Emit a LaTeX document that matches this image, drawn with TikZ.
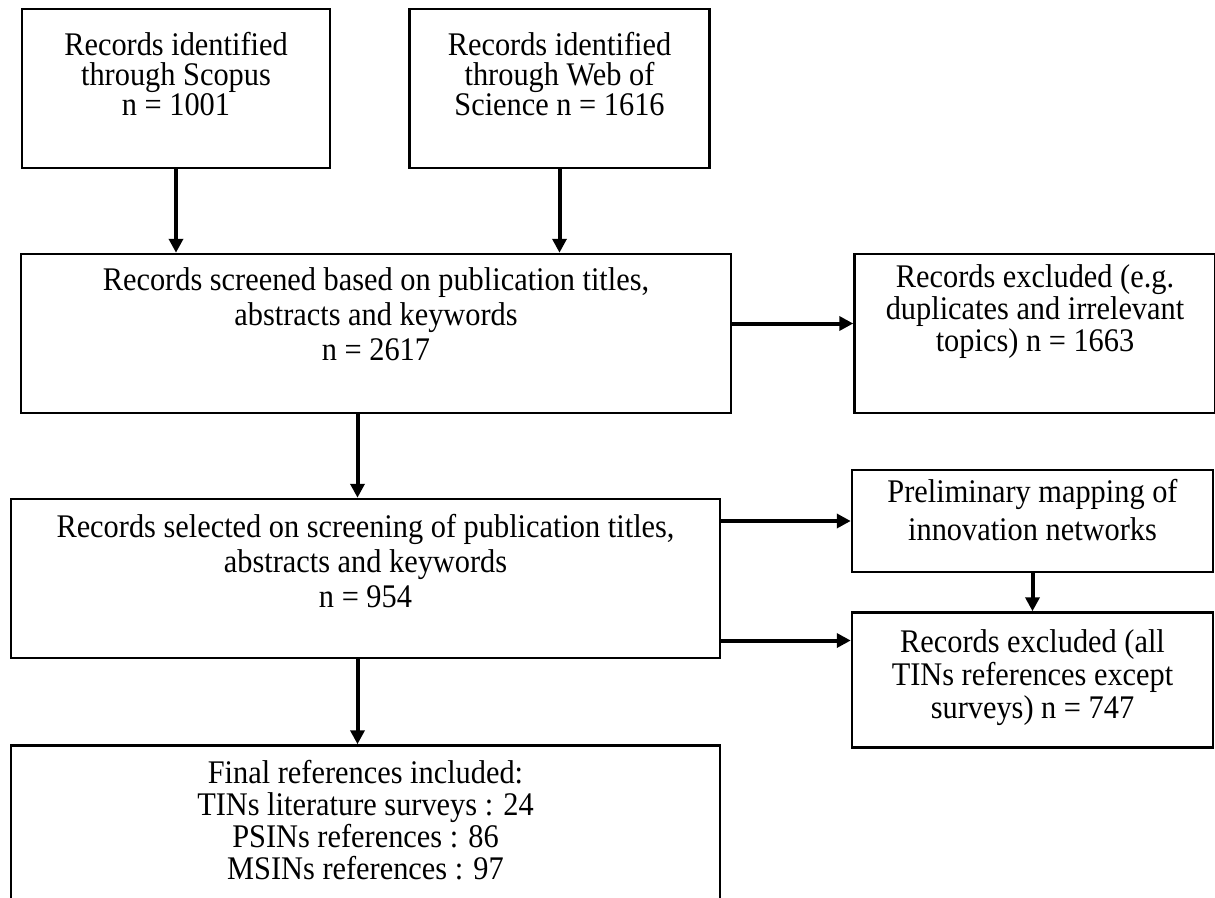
\documentclass[tikz,border=0pt]{standalone}
\usepackage{fontspec}
\setmainfont{Liberation Serif}[FakeStretch=0.92]
\usetikzlibrary{positioning, arrows.meta}

% width, height, space above the first line, text
\newcommand{\flowtext}[4]{\parbox[c][#2][t]{#1}{\centering\vspace*{#3}#4\par}}

\tikzset{
  box/.style={draw, line width=2.5pt, inner sep=0pt,
    font=\fontsize{33pt}{32pt}\selectfont},
  arr/.style={line width=4pt, -{Triangle[width=14pt,length=14pt]}}
}

\begin{document}
\begin{tikzpicture}[x=1pt, y=-1pt]
\useasboundingbox (0,0) rectangle (1215,897);
\clip (0,0) rectangle (1215,897);

\node[box, font=\fontsize{33pt}{30pt}\selectfont] (scopus) at (176,88.5)
    {\flowtext{308pt}{159pt}{23.5pt}{Records identified\\through Scopus\\n = 1001}};
\node[box, font=\fontsize{33pt}{30pt}\selectfont, right=77pt of scopus] (wos)
    {\flowtext{300pt}{159pt}{23.5pt}{Records identified\\through Web of\\Science n = 1616}};
\node[box, font=\fontsize{33pt}{35pt}\selectfont] (screen) at (376,333.5)
    {\flowtext{710pt}{159pt}{13.5pt}{Records screened based on publication titles,\\abstracts and keywords\\n = 2617}};
\node[box, right=121pt of screen] (excl1)
    {\flowtext{361pt}{159pt}{10.5pt}{Records excluded (e.g.\\duplicates and irrelevant\\topics) n = 1663}};
\node[box, font=\fontsize{33pt}{35pt}\selectfont] (select) at (365.5,578.5)
    {\flowtext{709pt}{159pt}{15.5pt}{Records selected on screening of publication titles,\\abstracts and keywords\\n = 954}};
\node[box, font=\fontsize{33pt}{38pt}\selectfont] (prelim) at (1032.5,521)
    {\flowtext{361pt}{102pt}{9.5pt}{Preliminary mapping of\\innovation networks}};
\node[box, font=\fontsize{33pt}{33pt}\selectfont, below=38pt of prelim] (excl2)
    {\flowtext{361pt}{135pt}{17.5pt}{Records excluded (all\\TINs references except\\surveys) n = 747}};
\node[box, font=\fontsize{33pt}{32pt}\selectfont, below=85pt of select] (final)
    {\flowtext{709pt}{200pt}{14.5pt}{Final references included:\\TINs literature surveys : 24\\PSINs references : 86\\MSINs references : 97}};

\coordinate (e1) at ([yshift=10pt]screen.east);
\coordinate (e2) at ([yshift=-62pt]select.east);
\coordinate (m1) at ([xshift=-8pt]select.north);
\coordinate (m2) at ([xshift=-8pt]select.south);

\draw[arr] (scopus.south) -- (scopus.south |- screen.north);
\draw[arr] (wos.south) -- (wos.south |- screen.north);
\draw[arr] (e1) -- (e1 -| excl1.west);
\draw[arr] (m1 |- screen.south) -- (m1);
\draw[arr] (select.east |- prelim.west) -- (prelim.west);
\draw[arr] (e2) -- (e2 -| excl2.west);
\draw[arr] (prelim.south) -- (excl2.north);
\draw[arr] (m2) -- (m2 |- final.north);
\end{tikzpicture}
\end{document}
